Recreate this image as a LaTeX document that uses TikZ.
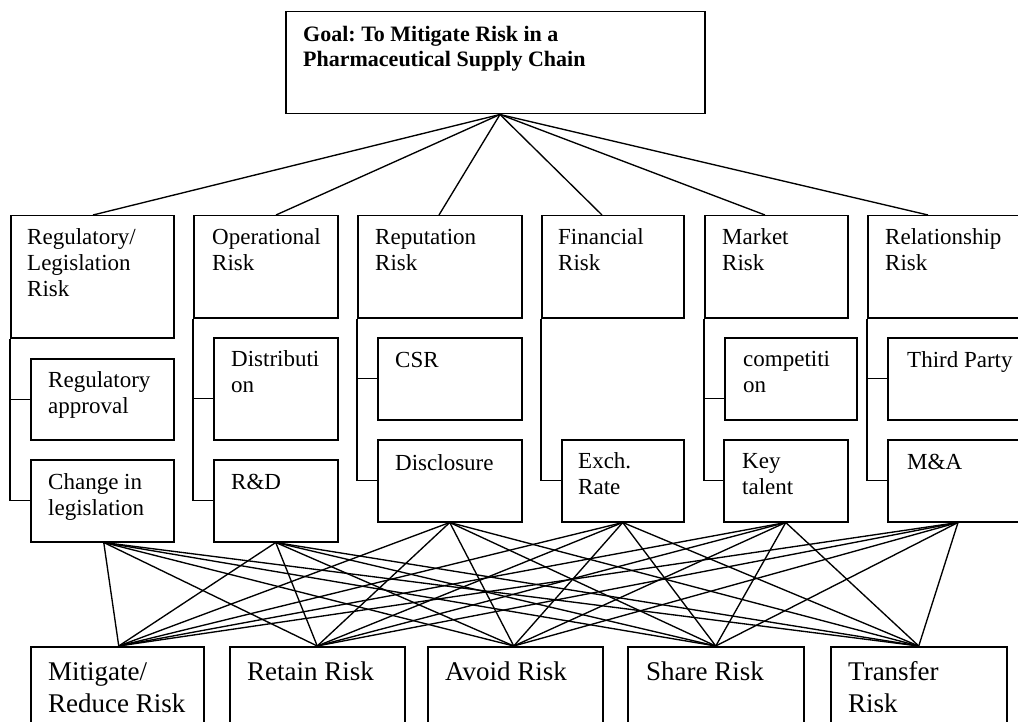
\documentclass[tikz,border=0pt]{standalone}
\usepackage{fontspec}
\setmainfont{Liberation Serif}
\usetikzlibrary{calc}
\newcommand{\mytl}[1]{\begin{tabular}[t]{@{}l@{}}#1\end{tabular}}
\frenchspacing
\begin{document}
\begin{tikzpicture}[x=1pt,y=-1pt,
  box/.style={draw,line width=1.5pt,inner sep=0pt,anchor=north west},
  lbl/.style={inner sep=0pt,anchor=base west},
  goaltxt/.style={lbl,font=\bfseries\fontsize{22}{25}\selectfont},
  midtxt/.style={lbl,font=\fontsize{23}{26}\selectfont},
  bigtxt/.style={lbl,font=\fontsize{27}{32}\selectfont},
  con/.style={line width=1.35pt}]
\clip (0,0) rectangle (1018,722);
\fill[white] (0,0) rectangle (1018,722);

% goal
\node[box,minimum width=419pt,minimum height=102pt] (goal) at (285,11) {};
\node[goaltxt] (tgoal) at ($(goal.north west)+(18,31)$) {\mytl{Goal: To Mitigate Risk in a\\Pharmaceutical Supply Chain}};
\coordinate (apex) at ($(goal.south west)+(215,0)$);

% categories
\node[box,minimum width=163pt,minimum height=122pt] (c1) at (10,215) {};
\node[box,minimum width=144pt,minimum height=102pt] (c2) at (193,215) {};
\node[box,minimum width=164pt,minimum height=102pt] (c3) at (357,215) {};
\node[box,minimum width=142pt,minimum height=102pt] (c4) at (541,215) {};
\node[box,minimum width=143pt,minimum height=102pt] (c5) at (704,215) {};
\node[box,minimum width=170pt,minimum height=102pt] (c6) at (867,215) {};
\node[midtxt] (tc1) at ($(c1.north west)+(17,30)$) {\mytl{Regulatory/\\Legislation\\Risk}};
\node[midtxt] (tc2) at ($(c2.north west)+(19,30)$) {\mytl{Operational\\Risk}};
\node[midtxt] (tc3) at ($(c3.north west)+(18,30)$) {\mytl{Reputation\\Risk}};
\node[midtxt] (tc4) at ($(c4.north west)+(17,30)$) {\mytl{Financial\\Risk}};
\node[midtxt] (tc5) at ($(c5.north west)+(18,30)$) {\mytl{Market\\Risk}};
\node[midtxt] (tc6) at ($(c6.north west)+(18,30)$) {\mytl{Relationship\\Risk}};

\draw[con] (apex) -- ($(c1.north west)+(83,0)$);
\draw[con] (apex) -- ($(c2.north west)+(83,0)$);
\draw[con] (apex) -- ($(c3.north west)+(82,0)$);
\draw[con] (apex) -- ($(c4.north west)+(61,0)$);
\draw[con] (apex) -- ($(c5.north west)+(61,0)$);
\draw[con] (apex) -- ($(c6.north west)+(61,0)$);

% sub boxes
\node[box,minimum width=143pt,minimum height=81pt] (s11) at (30,358) {};
\node[box,minimum width=143pt,minimum height=82pt] (s12) at (30,459) {};
\node[box,minimum width=124pt,minimum height=102pt] (s21) at (213,337) {};
\node[box,minimum width=124pt,minimum height=82pt] (s22) at (213,459) {};
\node[box,minimum width=144pt,minimum height=82pt] (s31) at (377,337) {};
\node[box,minimum width=144pt,minimum height=82pt] (s32) at (377,439) {};
\node[box,minimum width=122pt,minimum height=82pt] (s42) at (561,439) {};
\node[box,minimum width=132pt,minimum height=82pt] (s51) at (724,337) {};
\node[box,minimum width=124pt,minimum height=82pt] (s52) at (723,439) {};
\node[box,minimum width=150pt,minimum height=82pt] (s61) at (887,337) {};
\node[box,minimum width=150pt,minimum height=82pt] (s62) at (887,439) {};

\node[midtxt] (ts11) at ($(s11.north west)+(18,29)$) {\mytl{Regulatory\\approval}};
\node[midtxt] (ts12) at ($(s12.north west)+(18,30)$) {\mytl{Change in\\legislation}};
\node[midtxt] (ts21) at ($(s21.north west)+(18,29)$) {\mytl{Distributi\\on}};
\node[midtxt] (ts22) at ($(s22.north west)+(18,30)$) {R\&D};
\node[midtxt] (ts31) at ($(s31.north west)+(18,30)$) {CSR};
\node[midtxt] (ts32) at ($(s32.north west)+(18,31)$) {Disclosure};
\node[midtxt] (ts42) at ($(s42.north west)+(17,29)$) {\mytl{Exch.\\Rate}};
\node[midtxt] (ts51) at ($(s51.north west)+(19,29)$) {\mytl{competiti\\on}};
\node[midtxt] (ts52) at ($(s52.north west)+(19,29)$) {\mytl{Key\\talent}};
\node[midtxt] (ts61) at ($(s61.north west)+(20,30)$) {Third Party};
\node[midtxt] (ts62) at ($(s62.north west)+(20,30)$) {M\&A};

% tree connectors
\draw[con] (c1.south west) |- (s12.west);
\draw[con] (c1.south west |- s11.west) -- (s11.west);
\draw[con] (c2.south west) |- (s22.west);
\draw[con] (c2.south west |- s21.west) ++(0,10) -- ++(20,0);
\draw[con] (c3.south west) |- (s32.west);
\draw[con] (c3.south west |- s31.west) -- (s31.west);
\draw[con] (c4.south west) |- (s42.west);
\draw[con] (c5.south west) |- (s52.west);
\draw[con] (c5.south west |- s51.west) ++(0,20) -- ++(20,0);
\draw[con] (c6.south west) |- (s62.west);
\draw[con] (c6.south west |- s61.west) -- (s61.west);

% bottom boxes
\node[box,minimum width=173pt,minimum height=100pt] (b1) at (30,646) {};
\node[box,minimum width=175pt,minimum height=100pt] (b2) at (229,646) {};
\node[box,minimum width=175pt,minimum height=100pt] (b3) at (427,646) {};
\node[box,minimum width=176pt,minimum height=100pt] (b4) at (627,646) {};
\node[box,minimum width=176pt,minimum height=100pt] (b5) at (830,646) {};
\node[bigtxt] (tb1) at ($(b1.north west)+(18,34)$) {\mytl{Mitigate/\\Reduce Risk}};
\node[bigtxt] (tb2) at ($(b2.north west)+(18,34)$) {Retain Risk};
\node[bigtxt] (tb3) at ($(b3.north west)+(18,34)$) {Avoid Risk};
\node[bigtxt] (tb4) at ($(b4.north west)+(19,34)$) {Share Risk};
\node[bigtxt] (tb5) at ($(b5.north west)+(18,34)$) {\mytl{Transfer\\Risk}};

\coordinate (o1) at ($(s12.south)+(1.5,0)$);
\coordinate (o2) at (s22.south);
\coordinate (o3) at (s32.south);
\coordinate (o4) at (s42.south);
\coordinate (o5) at (s52.south);
\coordinate (o6) at ($(s62.south west)+(71,0)$);
\coordinate (d1) at ($(b1.north)+(1.5,0)$);
\coordinate (d2) at (b2.north);
\coordinate (d3) at ($(b3.north)+(-1.5,0)$);
\coordinate (d4) at (b4.north);
\coordinate (d5) at (b5.north);
\foreach \o in {o1,o2,o3,o4,o5,o6}
  \foreach \d in {d1,d2,d3,d4,d5}
    \draw[con] (\o) -- (\d);
\end{tikzpicture}
\end{document}
